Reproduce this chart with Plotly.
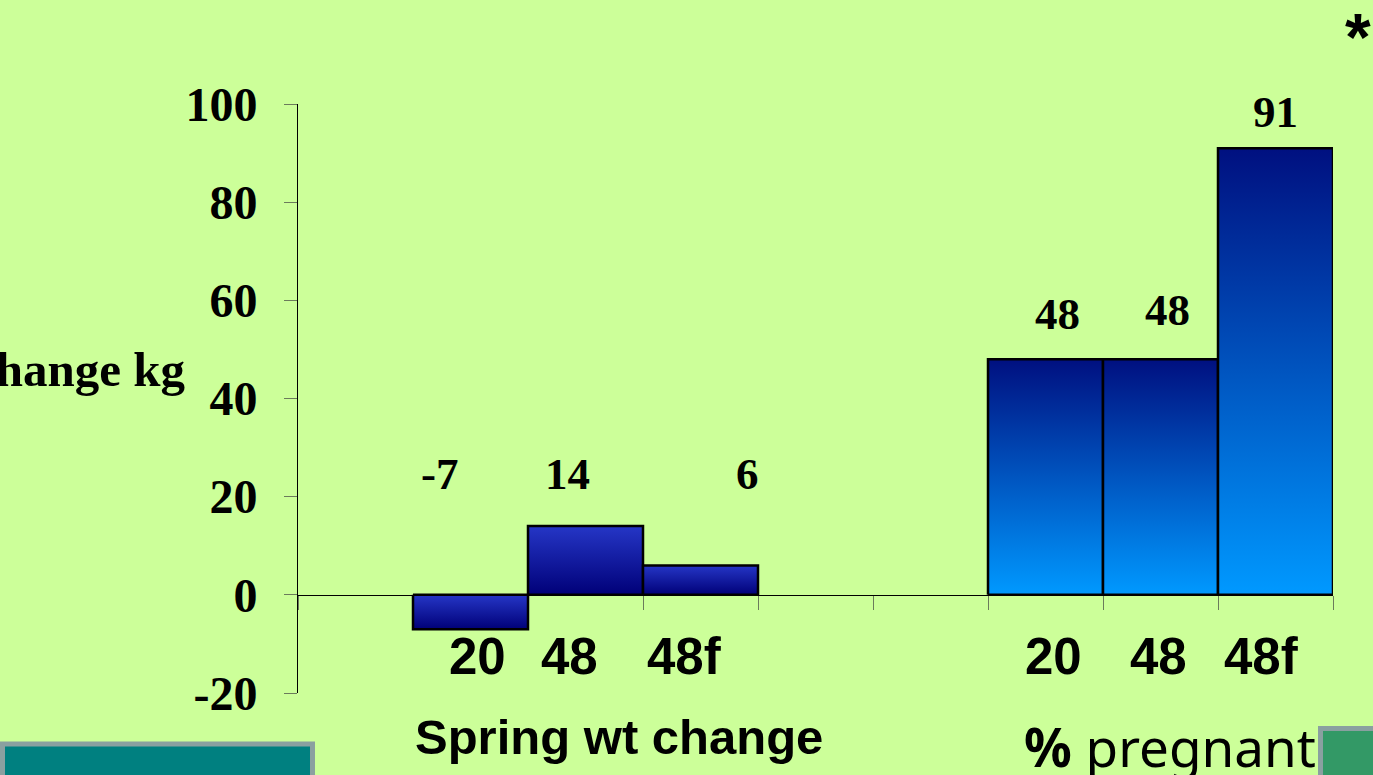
import plotly.graph_objects as go

# Spring weight change (kg) and pregnancy rate (%) by group
spring_groups = ["20", "48", "48f"]
spring_change = [-7, 14, 6]
preg_groups = ["20", "48", "48f"]
preg_rate = [48, 48, 91]
y_ticks = [-20, 0, 20, 40, 60, 80, 100]

# slot layout on the category axis (9 slots, two groups separated by gaps)
spring_slots = [1, 2, 3]
preg_slots = [6, 7, 8]
n_slots = 9

# label placement (pixel shifts from slot centres, label heights in axis units)
spring_label_dx = [-31, -18, 47]
spring_label_y = [24.6, 24.6, 24.6]
preg_label_dx = [12, 7, 0]
preg_label_y = [57.3, 58.0, 98.4]
spring_cat_dx = [7, -16, -16]
preg_cat_dx = [8, -2, -14]

# geometry of the plotting area in pixels
W, H = 1373, 775
L, R, T, B = 298, 1333, 104, 693
PW, PH = R - L, B - T


def px_x(px):
    return (px - L) / PW


def px_y(py):
    return (B - py) / PH


SERIF = "Liberation Serif"
SANS = "Liberation Sans"

fig = go.Figure()


def add_bar(slot, value, scale):
    lo, hi = min(0, value), max(0, value)
    fig.add_trace(go.Scatter(
        x=[slot, slot, slot + 1, slot + 1, slot],
        y=[0, value, value, 0, 0],
        mode="lines",
        fill="toself",
        fillgradient=dict(type="vertical", colorscale=scale, start=lo, stop=hi),
        line=dict(color="black", width=2.5),
        hoverinfo="skip",
        showlegend=False,
    ))


spring_scale = [[0, "#000078"], [1, "#2536c6"]]
preg_scale = [[0, "#0099ff"], [1, "#001080"]]

for s, v in zip(spring_slots, spring_change):
    add_bar(s, v, spring_scale)
for s, v in zip(preg_slots, preg_rate):
    add_bar(s, v, preg_scale)

annotations = []

# value labels above the bars
for s, v, dx, ly in zip(spring_slots, spring_change, spring_label_dx, spring_label_y):
    annotations.append(dict(x=s + 0.5, y=ly, xref="x", yref="y", text=f"<b>{v}</b>",
                            xshift=dx, showarrow=False, yanchor="middle",
                            font=dict(family=SERIF, size=45, color="black")))
for s, v, dx, ly in zip(preg_slots, preg_rate, preg_label_dx, preg_label_y):
    annotations.append(dict(x=s + 0.5, y=ly, xref="x", yref="y", text=f"<b>{v}</b>",
                            xshift=dx, showarrow=False, yanchor="middle",
                            font=dict(family=SERIF, size=45, color="black")))

# group names under the bars
for s, g, dx in zip(spring_slots, spring_groups, spring_cat_dx):
    annotations.append(dict(x=s + 0.5, y=px_y(656), xref="x", yref="paper",
                            text=f"<b>{g}</b>", xshift=dx, showarrow=False,
                            yanchor="middle",
                            font=dict(family=SANS, size=51, color="black")))
for s, g, dx in zip(preg_slots, preg_groups, preg_cat_dx):
    annotations.append(dict(x=s + 0.5, y=px_y(656), xref="x", yref="paper",
                            text=f"<b>{g}</b>", xshift=dx, showarrow=False,
                            yanchor="middle",
                            font=dict(family=SANS, size=51, color="black")))

# axis titles
annotations.append(dict(x=px_x(188), y=px_y(369), xref="paper", yref="paper",
                        xanchor="right", yanchor="middle", text="<b>change kg</b>",
                        showarrow=False, font=dict(family=SERIF, size=49, color="black")))
annotations.append(dict(x=px_x(619), y=px_y(737), xref="paper", yref="paper",
                        xanchor="center", yanchor="middle", text="<b>Spring wt change</b>",
                        showarrow=False, font=dict(family=SANS, size=49, color="black")))
annotations.append(dict(x=px_x(1022), y=px_y(746), xref="paper", yref="paper",
                        xanchor="left", yanchor="middle",
                        text="<b>%</b> pregnant",
                        showarrow=False, font=dict(family="Noto Sans", size=53, color="black")))
annotations.append(dict(x=px_x(1358), y=px_y(37), xref="paper", yref="paper",
                        xanchor="center", yanchor="middle", text="<b>*</b>",
                        showarrow=False, font=dict(family=SANS, size=66, color="black")))

# footer panels of the slide
shapes = [
    dict(type="rect", xref="paper", yref="paper",
         x0=px_x(2.5), x1=px_x(312.5), y0=px_y(744), y1=px_y(790),
         fillcolor="#008080", line=dict(color="#8aa0a0", width=5), layer="above"),
    dict(type="rect", xref="paper", yref="paper",
         x0=px_x(1320.5), x1=px_x(1390), y0=px_y(728.5), y1=px_y(790),
         fillcolor="#339966", line=dict(color="#8aa0a0", width=5), layer="above"),
]

fig.update_layout(
    width=W, height=H,
    margin=dict(l=L, r=W - R, t=T, b=H - B, pad=0),
    paper_bgcolor="#ccff99",
    plot_bgcolor="rgba(0,0,0,0)",
    showlegend=False,
    annotations=annotations,
    shapes=shapes,
    xaxis=dict(
        range=[0, n_slots], showgrid=False, zeroline=False,
        anchor="free", position=px_y(595),
        showline=True, linecolor="black", linewidth=1,
        tickmode="array", tickvals=list(range(n_slots + 1)),
        ticks="outside", ticklen=14, tickcolor="#6b7b5b", tickwidth=1,
        showticklabels=False, layer="below traces", fixedrange=True,
    ),
    yaxis=dict(
        range=[-20, 100], showgrid=False, zeroline=False,
        showline=True, linecolor="black", linewidth=1,
        tickmode="array", tickvals=y_ticks, ticktext=[f"<b>{t}</b>" for t in y_ticks],
        ticks="outside", ticklen=13, tickcolor="#6b7b5b", tickwidth=1,
        ticklabelstandoff=17,
        tickfont=dict(family=SERIF, size=48, color="black"), fixedrange=True,
    ),
)

fig.write_html("out.html", config={"displayModeBar": False})
